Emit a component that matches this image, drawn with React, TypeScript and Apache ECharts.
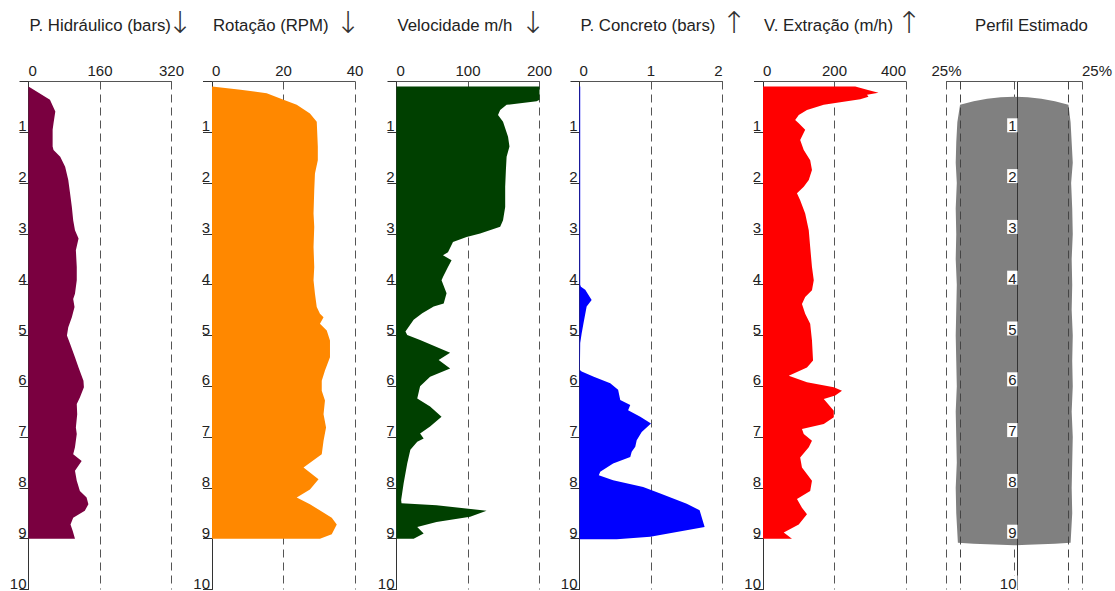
import React, { useEffect, useRef } from 'react';
import * as echarts from 'echarts';

const FONT = 'Liberation Sans, Arial, Helvetica, sans-serif';

const titles = ['P. Hidráulico (bars)', 'Rotação (RPM)', 'Velocidade m/h', 'P. Concreto (bars)', 'V. Extração (m/h)', 'Perfil Estimado'];
const arrows = ['↓', '↓', '↓', '↑', '↑'];
const axisMax = [320, 40, 200, 2, 400];
const axisInterval = [160, 20, 100, 1, 200];
const colors = ['#7a0040', '#ff8800', '#004000', '#0000ff', '#ff0000', '#808080'];
const profileTickLabel = '25%';

// P. Hidráulico (bars)
const hydDepth = [0.1, 0.36, 0.59, 0.82, 0.95, 1.28, 1.35, 1.48, 1.68, 1.94, 2.2, 2.47, 2.73, 2.93, 3.09, 3.32, 3.65, 3.91, 4.18, 4.28, 4.44, 4.64, 4.84, 5.0, 5.16, 5.43, 5.63, 5.89, 6.02, 6.22, 6.35, 6.55, 6.81, 6.94, 7.2, 7.34, 7.47, 7.66, 7.86, 8.06, 8.19, 8.32, 8.45, 8.59, 8.72, 8.85, 9.0];
const hydValue = [0, 48, 60, 56, 54, 54, 56, 71, 82, 89, 93, 97, 100, 104, 112, 106, 108, 108, 104, 100, 103, 97, 89, 86, 93, 104, 112, 123, 124, 115, 108, 109, 106, 108, 104, 100, 119, 104, 108, 115, 130, 134, 126, 100, 94, 99, 104];

// Rotação (RPM)
const rotDepth = [0.1, 0.16, 0.23, 0.36, 0.46, 0.63, 0.79, 1.28, 1.55, 1.81, 2.14, 2.6, 2.86, 3.26, 3.65, 3.91, 4.18, 4.44, 4.57, 4.64, 4.77, 4.9, 5.1, 5.43, 5.69, 5.89, 6.09, 6.28, 6.55, 6.81, 7.07, 7.34, 7.6, 7.83, 8.03, 8.19, 8.32, 8.59, 8.72, 8.91, 9.0];
const rotValue = [0, 8, 15.3, 20, 23.7, 27.4, 29.3, 29.6, 29.6, 28.8, 28.6, 28.4, 28.6, 28.4, 28.6, 28.4, 28.8, 29.3, 30.2, 31.2, 30.2, 32.1, 33, 33, 31.6, 30.7, 30.7, 31.6, 31.2, 31.9, 31.2, 30.7, 25.6, 29.8, 27.4, 23.7, 27.4, 33.5, 34.9, 33.5, 30.2];

// Velocidade m/h
const velDepth = [0.1, 0.36, 0.39, 0.46, 0.56, 0.66, 0.79, 1.09, 1.28, 1.48, 1.74, 2.07, 2.47, 2.73, 2.86, 2.99, 3.06, 3.16, 3.36, 3.42, 3.52, 3.65, 3.85, 3.91, 4.17, 4.37, 4.43, 4.56, 4.69, 4.92, 4.99, 5.09, 5.34, 5.48, 5.65, 5.81, 6.0, 6.24, 6.4, 6.6, 6.79, 6.93, 7.03, 7.09, 7.25, 7.52, 7.91, 8.24, 8.3, 8.34, 8.45, 8.57, 8.67, 8.77, 8.9, 9.0];
const velValue = [200, 200, 196, 154, 145, 142, 149, 156, 158, 154, 153, 152, 152, 149, 145, 117, 98, 79, 72, 65, 77, 72, 65, 63, 70, 66, 52, 36, 24, 12.5, 15, 33, 75, 59, 75, 47, 33, 29, 47, 63, 47, 33, 38, 29, 19.4, 15, 10, 6.5, 7, 56, 126, 103, 56, 29, 38, 24];

// P. Concreto (bars)
const conDepth = [0.1, 4.0, 4.04, 4.1, 4.3, 4.43, 4.76, 4.96, 5.15, 5.68, 5.71, 5.81, 5.94, 6.07, 6.27, 6.37, 6.47, 6.6, 6.73, 6.9, 7.06, 7.19, 7.29, 7.39, 7.52, 7.68, 7.75, 7.85, 7.98, 8.11, 8.31, 8.44, 8.77, 8.96, 9.01];
const conValue = [0.01, 0.01, 0.02, 0.08, 0.17, 0.1, 0.056, 0.03, 0.01, 0.005, 0.03, 0.2, 0.43, 0.54, 0.57, 0.71, 0.68, 0.85, 1.0, 0.87, 0.8, 0.78, 0.73, 0.71, 0.47, 0.29, 0.27, 0.47, 0.89, 1.13, 1.5, 1.68, 1.75, 0.99, 0.52];

// V. Extração (m/h)
const extDepth = [0.1, 0.16, 0.22, 0.26, 0.3, 0.35, 0.41, 0.46, 0.56, 0.66, 0.76, 0.82, 0.95, 1.15, 1.35, 1.55, 1.74, 1.94, 2.07, 2.2, 2.34, 2.6, 2.93, 3.26, 3.65, 3.91, 4.11, 4.24, 4.38, 4.57, 4.77, 5.1, 5.49, 5.63, 5.79, 5.92, 6.02, 6.09, 6.18, 6.25, 6.48, 6.61, 6.74, 6.84, 6.94, 7.07, 7.2, 7.4, 7.6, 7.86, 8.06, 8.22, 8.39, 8.52, 8.72, 8.88, 9.0];
const extValue = [258, 291, 323, 291, 295, 272, 216, 170, 123, 100, 90, 100, 118, 104, 114, 132, 137, 128, 114, 95, 104, 118, 128, 132, 137, 142, 137, 118, 109, 118, 132, 137, 140, 123, 72, 123, 198, 221, 202, 170, 198, 198, 170, 109, 114, 137, 128, 104, 109, 137, 132, 95, 109, 123, 100, 58, 81];

// Perfil Estimado (radius relative to nominal, 1.25 = +25%)
const profDepth = [0.46, 0.8, 1.2, 1.6, 2.0, 2.5, 3.0, 3.5, 4.0, 4.5, 5.0, 5.5, 6.0, 6.5, 7.0, 7.5, 8.0, 8.5, 9.08];
const profLeft = [1.0, 1.05, 1.07, 1.08, 1.06, 1.08, 1.07, 1.08, 1.06, 1.07, 1.08, 1.07, 1.06, 1.08, 1.07, 1.06, 1.08, 1.07, 1.04];
const profRight = [1.0, 1.04, 1.06, 1.08, 1.05, 1.07, 1.08, 1.06, 1.07, 1.06, 1.08, 1.07, 1.08, 1.06, 1.08, 1.07, 1.06, 1.07, 1.04];
const capX = [-0.75, -0.5, -0.25, 0, 0.25, 0.5, 0.75];
const capDepth = [0.39, 0.34, 0.31, 0.3, 0.31, 0.34, 0.39];
const bottomX = [0.75, 0.5, 0.25, 0, -0.25, -0.5, -0.75];
const bottomDepth = [9.1, 9.11, 9.12, 9.13, 9.12, 9.11, 9.1];

const seriesDepth = [hydDepth, rotDepth, velDepth, conDepth, extDepth];
const seriesValue = [hydValue, rotValue, velValue, conValue, extValue];

const gridLeft = [28.5, 212, 396.5, 579.5, 763, 946.5];
const gridWidth = [143, 143, 143, 143, 143, 142];
const GRID_TOP = 81.5;
const GRID_H = 508;

function profilePoints(): number[][] {
  const pts: number[][] = [];
  pts.push([-profLeft[0], profDepth[0]]);
  for (let i = 0; i < capX.length; i++) pts.push([capX[i], capDepth[i]]);
  for (let i = 0; i < profDepth.length; i++) pts.push([profRight[i], profDepth[i]]);
  for (let i = 0; i < bottomX.length; i++) pts.push([bottomX[i], bottomDepth[i]]);
  for (let i = profDepth.length - 1; i >= 0; i--) pts.push([-profLeft[i], profDepth[i]]);
  return pts;
}

function areaPoints(d: number[], v: number[]): number[][] {
  const pts: number[][] = [[0, d[0]]];
  for (let i = 0; i < d.length; i++) pts.push([v[i], d[i]]);
  pts.push([0, d[d.length - 1]]);
  return pts;
}

export default function App() {
  const ref = useRef<HTMLDivElement>(null);
  useEffect(() => {
    if (!ref.current) return;
    const chart = echarts.init(ref.current, null, { renderer: 'svg' });
    const grids: any[] = [];
    const xAxes: any[] = [];
    const yAxes: any[] = [];
    const series: any[] = [];
    const graphics: any[] = [];
    const dashed = [8, 5];
    for (let i = 0; i < 6; i++) {
      grids.push({ left: gridLeft[i], top: GRID_TOP, width: gridWidth[i], height: GRID_H, containLabel: false });
      const isProf = i === 5;
      xAxes.push({
        gridIndex: i,
        type: 'value',
        position: 'top',
        min: isProf ? -1.25 : 0,
        max: isProf ? 1.25 : axisMax[i],
        interval: isProf ? 1.25 : axisInterval[i],
        axisLine: { show: true, onZero: false, lineStyle: { color: '#555', width: 1 } },
        axisTick: { show: false },
        axisLabel: {
          fontSize: 15,
          color: '#222',
          fontFamily: FONT,
          margin: 4,
          alignMinLabel: isProf ? 'center' : 'left',
          alignMaxLabel: isProf ? 'left' : (i === 3 || i === 4 ? 'right' : 'center'),
          formatter: isProf ? (v: number) => (v === 0 ? '' : profileTickLabel) : undefined,
        },
        splitLine: { show: true, lineStyle: { color: '#555', width: 1, type: dashed } },
      });
      yAxes.push({
        gridIndex: i,
        type: 'value',
        position: 'left',
        offset: isProf ? -gridWidth[i] / 2 : 0,
        z: isProf ? 10 : 0,
        min: 0,
        max: 10,
        interval: 1,
        inverse: true,
        axisLine: { show: true, onZero: false, lineStyle: { color: '#333', width: 1 } },
        axisTick: { show: !isProf, length: 9, lineStyle: { color: '#333' } },
        axisLabel: {
          fontSize: 15,
          color: '#222',
          fontFamily: FONT,
          margin: isProf ? 0 : 2,
          verticalAlign: 'bottom',
          lineHeight: 13,
          formatter: (v: number) => (v === 0 ? '' : String(v)),
          ...(isProf ? { backgroundColor: '#fff', padding: [1, 1, 0, 1] } : {}),
        },
        splitLine: { show: false },
      });
      const pts = isProf ? profilePoints() : areaPoints(seriesDepth[i], seriesValue[i]);
      const color = colors[i];
      series.push({
        type: 'custom',
        xAxisIndex: i,
        yAxisIndex: i,
        silent: true,
        data: [pts[0]],
        renderItem: (params: any, api: any) => {
          if (params.dataIndex !== 0) return null;
          return {
            type: 'polygon',
            shape: { points: pts.map((p) => api.coord(p)) },
            style: { fill: color, stroke: null },
          };
        },
        ...(isProf
          ? {
              markLine: {
                silent: true,
                symbol: 'none',
                z: 6,
                label: { show: false },
                lineStyle: { color: '#444', width: 1, type: dashed },
                data: [{ xAxis: -1 }, { xAxis: 1 }],
              },
            }
          : {}),
      });
      graphics.push({
        type: 'text',
        left: isProf ? 975 : gridLeft[i] + 1,
        top: 17,
        style: { text: titles[i], fontSize: 16.8, fill: '#222', fontFamily: FONT },
      });
    }
    const arrowX = [180, 348, 533, 734, 909];
    for (let i = 0; i < arrows.length; i++) {
      graphics.push({
        type: 'text',
        x: arrowX[i],
        y: 22,
        style: {
          text: arrows[i],
          fontSize: 30,
          fill: '#333',
          fontFamily: 'DejaVu Sans',
          fontWeight: 200,
          align: 'center',
          verticalAlign: 'middle',
        },
      });
    }
    chart.setOption({
      animation: false,
      backgroundColor: '#fff',
      grid: grids,
      xAxis: xAxes,
      yAxis: yAxes,
      series,
      graphic: graphics,
    });
    return () => chart.dispose();
  }, []);
  return <div ref={ref} style={{ position: 'absolute', left: 0, top: 0, width: 1115, height: 591 }} />;
}
